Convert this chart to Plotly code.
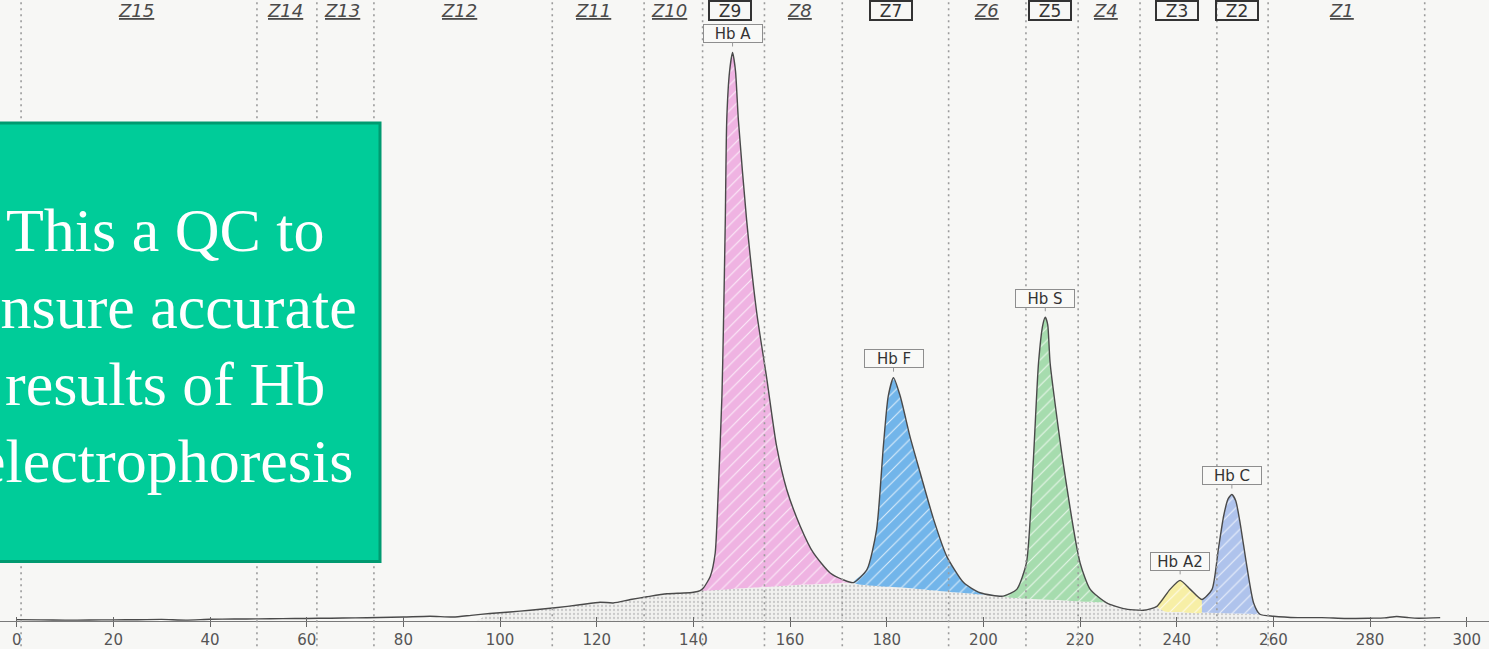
import plotly.graph_objects as go

# ---------------- data ----------------
# densitometry trace (x = migration position, y = absorbance, arbitrary units)
curve_x = [0, 5, 10, 15, 20, 25, 30, 35, 40, 45, 50, 55, 60, 65, 70, 75, 80, 85.5, 90.3, 94,
           97.9, 102, 106.2, 111.4, 116.5, 120.7, 123.4, 127, 130.4, 134.5, 138, 140.0, 141.4,
           142.1, 143.5, 144.5, 145.1, 145.9, 146.2, 146.6, 146.9, 147.5, 148.1, 148.7, 149.3,
           151.0, 153.1, 155.2, 157.2, 159.3, 162.1, 164.8, 168.3, 171.0, 173.1, 175.9, 177.9,
           179.3, 180.3, 181.4, 182.8, 184.8, 186.9, 189.7, 192.4, 195.9, 199.3, 204.1, 206.9,
           208.9, 210.3, 211.4, 212.3, 212.8, 213.3, 213.8, 216.5, 220.0, 222.1, 225.5, 229.0,
           233.1, 235.9, 238.6, 240.7, 242.8, 245.2, 247.3, 248.6, 249.7, 250.6, 251.4, 252.2,
           253.1, 254.5, 255.9, 257.2, 260, 265, 270, 275, 280, 283, 285.5, 288, 290, 294.5]
curve_y = [0.25, 0.2, 0.15, 0.18, 0.2, 0.22, 0.28, 0.15, 0.3, 0.35, 0.38, 0.42, 0.45, 0.5, 0.55,
           0.62, 0.7, 0.85, 0.7, 1.0, 1.33, 1.6, 1.91, 2.34, 2.87, 3.33, 3.2, 3.8, 4.29, 4.82,
           4.95, 5.1, 5.4, 5.88, 7.94, 12.0, 22.1, 39.8, 51.6, 71.1, 88.8, 97.5, 100.7, 97.5,
           88.8, 71.1, 54.6, 42.8, 31.0, 23.3, 16.8, 12.1, 8.5, 7.3, 6.8, 9.1, 16.2, 31.0, 39.8,
           43.1, 39.8, 32.7, 26.3, 18.0, 11.5, 6.8, 5.0, 4.4, 5.6, 10.3, 28.0, 45.7, 52.5, 53.8,
           52.5, 45.7, 28.0, 10.3, 5.6, 3.2, 2.2, 1.9, 2.6, 5.6, 7.2, 5.6, 3.8, 5.6, 12.7, 18.6,
           21.6, 22.4, 21.3, 17.4, 9.7, 3.2, 1.2, 0.85, 0.6, 0.6, 0.45, 0.5, 0.55, 0.8, 0.6, 0.5,
           0.6]

# lower edge of the coloured fractions (top of the dotted background area)
sep_x = [141.4, 150, 160, 173.1, 185, 195, 204.1, 215, 225.5, 229.0, 233.1, 235.9, 237.5,
         240.7, 245.2, 251.4, 257.2]
sep_y = [5.4, 5.8, 6.3, 6.8, 5.8, 5.0, 4.4, 3.7, 3.2, 2.2, 1.9, 2.6, 1.7, 1.6, 1.5, 1.35, 1.2]
background_start = 95

fraction_names = ["Hb A", "Hb F", "Hb S", "Hb A2", "Hb C"]
fraction_start = [141.4, 173.1, 204.1, 235.9, 245.2]
fraction_end = [173.1, 204.1, 225.5, 245.2, 257.2]

zone_names = ["Z15", "Z14", "Z13", "Z12", "Z11", "Z10", "Z9", "Z8", "Z7", "Z6", "Z5", "Z4",
              "Z3", "Z2", "Z1"]
zone_x = [24.6, 55.5, 67.3, 91.5, 119.2, 135.0, 147.5, 161.9, 180.8, 200.6, 213.7, 225.3,
          240.1, 252.5, 274.0]
zone_boxed = [False, False, False, False, False, False, True, False, True, False, True, False,
              True, True, False]
zone_borders = [0.9, 49.7, 62.1, 73.9, 110.8, 129.8, 141.9, 154.7, 170.8, 192.8, 208.8, 219.6,
                232.4, 248.3, 258.9, 291.3]

tick_vals = [0, 20, 40, 60, 80, 100, 120, 140, 160, 180, 200, 220, 240, 260, 280, 300]

note_lines = ["This a QC to", "ensure accurate", "results of Hb", "electrophoresis"]

# ---------------- styles ----------------
fraction_colors = ["#EFB3E2", "#72B5EA", "#A6DCAE", "#F7EFA6", "#AFC3EC"]
BG = "#F7F7F5"
SANS = "DejaVu Sans"
PLOT_H = 621  # plot-area height in px (figure 649 minus bottom margin)

fig = go.Figure()

# dotted background area under the fractions
bg_x, bg_y = [], []
for x, y in zip(curve_x, curve_y):
    if background_start <= x < sep_x[0]:
        bg_x.append(x)
        bg_y.append(y)
bg_x += sep_x
bg_y += sep_y
bg_x += [sep_x[-1], background_start]
bg_y += [0, 0]
fig.add_trace(go.Scatter(
    x=bg_x, y=bg_y, mode="none", fill="toself", showlegend=False, hoverinfo="skip",
    fillcolor="#EFEFED",
    fillpattern=dict(shape=".", fgcolor="#C9C9C9", bgcolor="#F1F1EF", size=4, solidity=0.25,
                     fillmode="replace")))

# coloured fractions
for name, s, e, col in zip(fraction_names, fraction_start, fraction_end, fraction_colors):
    px = [x for x in curve_x if s <= x <= e]
    py = [y for x, y in zip(curve_x, curve_y) if s <= x <= e]
    lx = [x for x in sep_x if s <= x <= e][::-1]
    ly = [y for x, y in zip(sep_x, sep_y) if s <= x <= e][::-1]
    fig.add_trace(go.Scatter(
        x=px + lx, y=py + ly, mode="lines", fill="toself", name=name, showlegend=False,
        line=dict(width=0, shape="spline", smoothing=0.6, color=col),
        fillcolor=col,
        fillpattern=dict(shape="/", fgcolor="rgba(255,255,255,0.75)", bgcolor=col, size=9,
                         solidity=0.12, fillmode="replace")))

# trace line
fig.add_trace(go.Scatter(x=curve_x, y=curve_y, mode="lines", showlegend=False,
                         line=dict(color="#4a4a4a", width=1.4, shape="spline",
                                   smoothing=0.6)))

# overlay axis for the upward tick halves
fig.add_trace(go.Scatter(x=[], y=[], xaxis="x2", showlegend=False))

# zone borders
for zb in zone_borders:
    fig.add_shape(type="line", xref="x", yref="paper", x0=zb, x1=zb, y0=-0.06, y1=1.0,
                  line=dict(color="#9c9c9c", width=1.6, dash="2px,4px"), layer="above")

# note box
fig.add_shape(type="rect", xref="paper", yref="paper", x0=-0.035, x1=380 / 1489,
              y0=1 - 561.5 / PLOT_H, y1=1 - 123 / PLOT_H,
              fillcolor="#00CC99", line=dict(color="#009A70", width=3), layer="above")

annotations = []
# peak labels
for name, s, e in zip(fraction_names, fraction_start, fraction_end):
    seg = [(y, x) for x, y in zip(curve_x, curve_y) if s <= x <= e]
    pyk, pxk = max(seg)
    annotations.append(dict(
        x=pxk, y=pyk, xref="x", yref="y", text=name, showarrow=True, arrowhead=0,
        ax=0, ay=-19, standoff=6, arrowcolor="#9a9a9a", arrowwidth=1,
        font=dict(family=SANS, size=15, color="#333333"),
        bgcolor="#F9F9F7", bordercolor="#8e8e8e", borderwidth=1, borderpad=1,
        width=56, height=15))

# zone labels
for zn, zx, boxed in zip(zone_names, zone_x, zone_boxed):
    if boxed:
        annotations.append(dict(
            x=zx, y=1 - 11 / PLOT_H, xref="x", yref="paper", text=zn, showarrow=False,
            yanchor="middle", font=dict(family=SANS, size=17, color="#333333"),
            bordercolor="#333333", borderwidth=2, borderpad=0, width=40, height=17))
    else:
        annotations.append(dict(
            x=zx, y=1 - 11 / PLOT_H, xref="x", yref="paper", text="<u><i>" + zn + "</i></u>",
            showarrow=False, yanchor="middle",
            font=dict(family=SANS, size=18, color="#4a4a4a")))

# note text, one annotation per line (the text overflows the left edge as in the source)
note_centers_px = [230, 307, 384, 461]
for line, cy in zip(note_lines, note_centers_px):
    annotations.append(dict(
        x=165 / 1489, y=1 - cy / PLOT_H, xref="paper", yref="paper", xanchor="center",
        yanchor="middle", showarrow=False, text=line,
        font=dict(family="Liberation Serif", size=62, color="white")))

fig.update_layout(
    width=1489, height=649,
    margin=dict(l=0, r=0, t=0, b=28),
    paper_bgcolor=BG, plot_bgcolor=BG,
    annotations=annotations,
    xaxis=dict(range=[-3.46, 304.6], tickvals=tick_vals, ticks="outside", ticklen=5,
               tickwidth=1.2, tickcolor="#666666", showline=True, linecolor="#7a7a7a",
               linewidth=1.4, showgrid=False, zeroline=False,
               tickfont=dict(family=SANS, size=15, color="#555555")),
    xaxis2=dict(overlaying="x", matches="x", anchor="y", side="bottom",
                range=[-3.46, 304.6], tickvals=tick_vals, ticks="inside", ticklen=4,
                tickwidth=1.2, tickcolor="#666666", showticklabels=False, showline=False,
                showgrid=False, zeroline=False),
    yaxis=dict(range=[0, 110], visible=False, fixedrange=True),
)

fig.write_html("out.html", config={"displayModeBar": False},
               post_script="document.body.style.margin='0';")
